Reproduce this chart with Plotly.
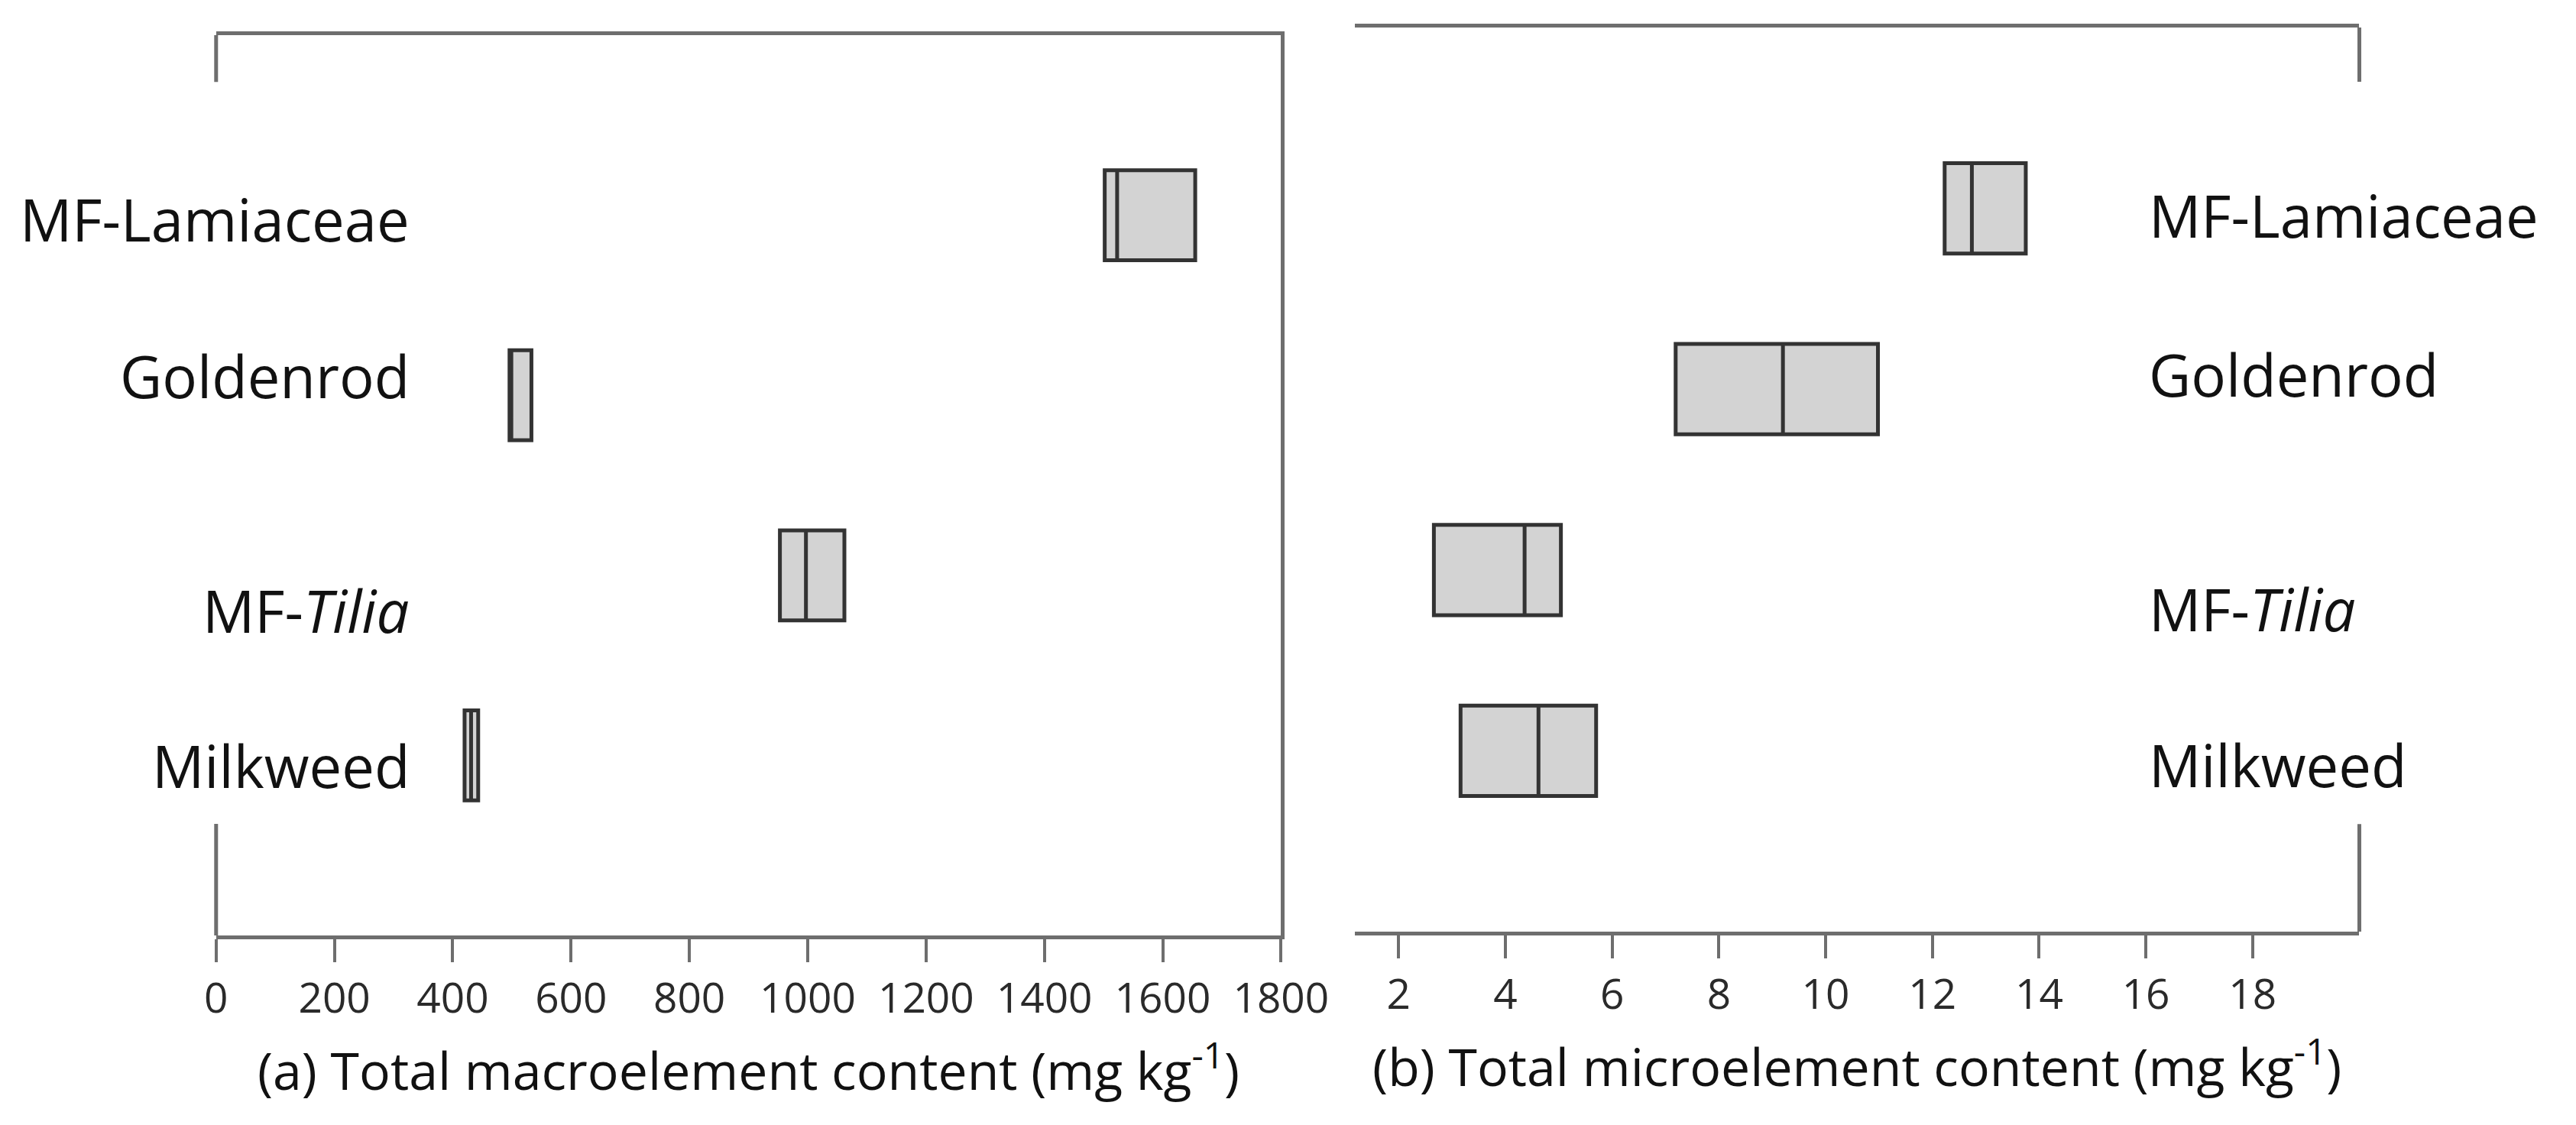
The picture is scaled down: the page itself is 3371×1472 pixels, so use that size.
import plotly.graph_objects as go

# ---------------- data ----------------
categories = ["MF-Lamiaceae", "Goldenrod", "MF-Tilia", "Milkweed"]
category_labels = ["MF-Lamiaceae", "Goldenrod", "MF-<i>Tilia</i>", "Milkweed"]

# (a) Total macroelement content (mg kg-1)
macro_min = [1502, 496, 953, 420]
macro_q1 = [1502, 496, 953, 420]
macro_median = [1523, 499, 997, 431]
macro_q3 = [1655, 533, 1062, 443]
macro_max = [1655, 533, 1062, 443]
macro_ticks = [0, 200, 400, 600, 800, 1000, 1200, 1400, 1600, 1800]

# (b) Total microelement content (mg kg-1)
micro_min = [12.23, 7.19, 2.66, 3.16]
micro_q1 = [12.23, 7.19, 2.66, 3.16]
micro_median = [12.74, 9.20, 4.36, 4.62]
micro_q3 = [13.75, 10.98, 5.04, 5.70]
micro_max = [13.75, 10.98, 5.04, 5.70]
micro_ticks = [2, 4, 6, 8, 10, 12, 14, 16, 18]

# ---------------- style ----------------
W, H = 3371, 1472
FONT = "Open Sans, Noto Sans, Segoe UI, sans-serif"
AXIS_COLOR = "#6e6e6e"
BOX_LINE = "#333333"
BOX_FILL = "#d3d3d3"
TEXT = "#111111"

# label vertical offsets relative to box centres (px, positive = up)
left_label_shift = [-5, 26, -46, -13]
right_label_shift = [-9, 20, -51, -18]


def dx(p):
    return p / W


def dy(p):
    return 1 - p / H


fig = go.Figure()

box_style = dict(
    orientation="h",
    width=0.5,
    whiskerwidth=0.5,
    fillcolor=BOX_FILL,
    line=dict(color=BOX_LINE, width=5),
    boxpoints=False,
    hoverinfo="skip",
    showlegend=False,
)

fig.add_trace(go.Box(
    y=categories, q1=macro_q1, median=macro_median, q3=macro_q3,
    lowerfence=macro_min, upperfence=macro_max,
    xaxis="x", yaxis="y", **box_style))

fig.add_trace(go.Box(
    y=categories, q1=micro_q1, median=micro_median, q3=micro_q3,
    lowerfence=micro_min, upperfence=micro_max,
    xaxis="x2", yaxis="y2", **box_style))

xcommon = dict(
    showline=True, linecolor=AXIS_COLOR, linewidth=5, mirror=True,
    ticks="outside", ticklen=30, tickwidth=4, tickcolor=AXIS_COLOR,
    showgrid=False, zeroline=False,
    tickfont=dict(family=FONT, size=55, color="#2a2a2a"),
    title_font=dict(family=FONT, size=68, color=TEXT),
    title_standoff=40,
)

fig.update_layout(
    width=W, height=H, autosize=False,
    margin=dict(l=0, r=0, t=0, b=0),
    paper_bgcolor="white", plot_bgcolor="white",
    xaxis=dict(domain=[dx(265), dx(1692)], anchor="y", range=[0, 1800],
               tickvals=macro_ticks,
               title_text="(a) Total macroelement content (mg kg<sup>-1</sup>)",
               **xcommon),
    yaxis=dict(domain=[dy(1216), dy(38)], anchor="x", side="right",
               type="category", categoryorder="array", categoryarray=categories,
               range=[4, -1], showline=True, linecolor=AXIS_COLOR, linewidth=5,
               ticks="", showticklabels=False, showgrid=False, zeroline=False),
    xaxis2=dict(domain=[dx(1791), dx(3137)], anchor="y2", range=[1.18, 20],
                tickvals=micro_ticks,
                title_text="(b) Total microelement content (mg kg<sup>-1</sup>)",
                **xcommon),
    yaxis2=dict(domain=[dy(1211), dy(28)], anchor="x2",
                type="category", categoryorder="array", categoryarray=categories,
                range=[4, -1], showline=False,
                ticks="", showticklabels=False, showgrid=False, zeroline=False),
)

# partial (broken) vertical frame stubs
stub = dict(type="line", line=dict(color=AXIS_COLOR, width=5))
fig.add_shape(xref="x domain", yref="y domain", x0=0, x1=0, y0=0, y1=0.124, **stub)
fig.add_shape(xref="x domain", yref="y domain", x0=0, x1=0, y0=0.948, y1=1, **stub)
fig.add_shape(xref="x2 domain", yref="y2 domain", x0=1, x1=1, y0=0, y1=0.119, **stub)
fig.add_shape(xref="x2 domain", yref="y2 domain", x0=1, x1=1, y0=0.94, y1=1, **stub)

# category labels
for cat, lab, s in zip(categories, category_labels, left_label_shift):
    fig.add_annotation(xref="x domain", yref="y", x=0.183, y=cat, text=lab,
                       xanchor="right", yanchor="middle", yshift=s, showarrow=False,
                       font=dict(family=FONT, size=76, color=TEXT))
for cat, lab, s in zip(categories, category_labels, right_label_shift):
    fig.add_annotation(xref="x2 domain", yref="y2", x=0.789, y=cat, text=lab,
                       xanchor="left", yanchor="middle", yshift=s, showarrow=False,
                       font=dict(family=FONT, size=76, color=TEXT))

fig.write_html("out.html")
